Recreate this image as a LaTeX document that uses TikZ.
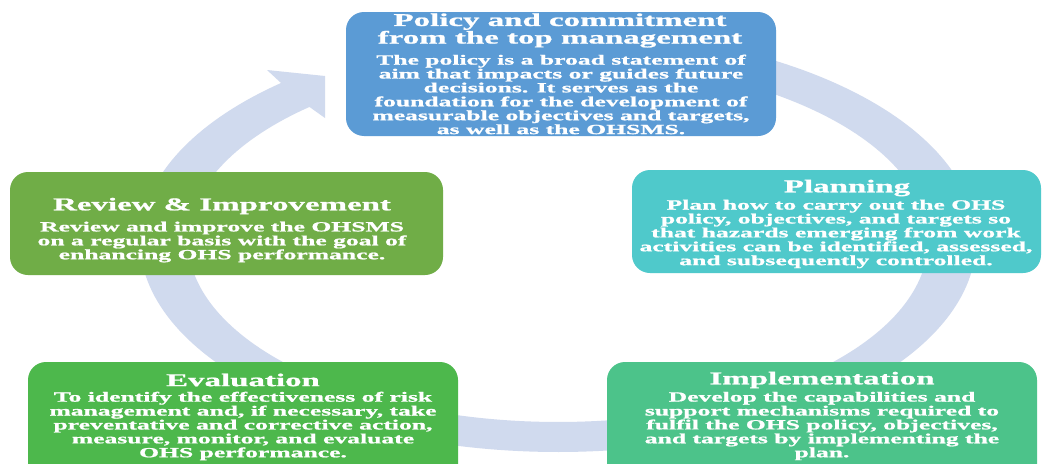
\documentclass[tikz,border=0pt]{standalone}
\usepackage{fontspec}
\newfontfamily\wf[FakeStretch=1.83,FakeBold=1.2]{Liberation Serif}
\definecolor{polblue}{HTML}{5B9BD5}
\definecolor{plateal}{HTML}{4FC9CB}
\definecolor{impgreen}{HTML}{4CC38A}
\definecolor{evagreen}{HTML}{4DB84C}
\definecolor{revgreen}{HTML}{70AD47}
\definecolor{ringc}{HTML}{D0DAEE}
\tikzset{
  box/.style={rectangle, rounded corners=18pt, draw=none, inner sep=0pt},
  ttl/.style={text=white, font=\wf\bfseries\fontsize{18}{16.5}\selectfont, align=center, inner sep=0pt},
  bdy/.style={text=white, font=\wf\bfseries\fontsize{14}{13.9}\selectfont, align=center, inner sep=0pt},
}
\begin{document}
\begin{tikzpicture}[x=1pt,y=-1pt]
\useasboundingbox (0,0) rectangle (1049,463);
\clip (0,0) rectangle (1049,463);
\fill[white] (0,0) rectangle (1049,463);
% cycle arrow
\fill[ringc] plot[domain=75:-228.5, samples=220] ({558+418*cos(\x)},{241-211*sin(\x)})
  -- (267,70) -- (325,76) -- (325,118)
  -- plot[domain=-227.8:75, samples=220] ({558+370*cos(\x)},{241-181*sin(\x)}) -- cycle;
% boxes
\node[box, fill=polblue, minimum width=430pt, minimum height=124pt] (pol) at (561,74) {};
\node[box, fill=revgreen, minimum width=433pt, minimum height=103pt] (rev) at (226.5,223.5) {};
\node[box, fill=plateal, minimum width=409pt, minimum height=103pt] (pla) at (836.5,221.5) {};
\node[box, fill=evagreen, minimum width=430pt, minimum height=120pt] (eva) at (243,422) {};
\node[box, fill=impgreen, minimum width=430pt, minimum height=120pt] (imp) at (822,422) {};
% texts
\node[ttl] (polt) at (560,30.5) {Policy and commitment\\from the top management};
\node[bdy] (polb) at (561,94.5) {The policy is a broad statement of\\aim that impacts or guides future\\decisions. It serves as the\\foundation for the development of\\measurable objectives and targets,\\as well as the OHSMS.};
\node[ttl] (revt) at (222,206) {Review \& Improvement};
\node[bdy] (revb) at (222,242) {Review and improve the OHSMS\\on a regular basis with the goal of\\enhancing OHS performance.};
\node[ttl] (plat) at (847,188) {Planning};
\node[bdy] (plab) at (836,234) {Plan how to carry out the OHS\\policy, objectives, and targets so\\that hazards emerging from work\\activities can be identified, assessed,\\and subsequently controlled.};
\node[ttl] (evat) at (243,380) {Evaluation};
\node[bdy] (evab) at (243,426) {To identify the effectiveness of risk\\management and, if necessary, take\\preventative and corrective action,\\measure, monitor, and evaluate\\OHS performance.};
\node[ttl] (impt) at (822,380) {Implementation};
\node[bdy] (impb) at (822,426) {Develop the capabilities and\\support mechanisms required to\\fulfil the OHS policy, objectives,\\and targets by implementing the\\plan.};
\end{tikzpicture}
\end{document}
